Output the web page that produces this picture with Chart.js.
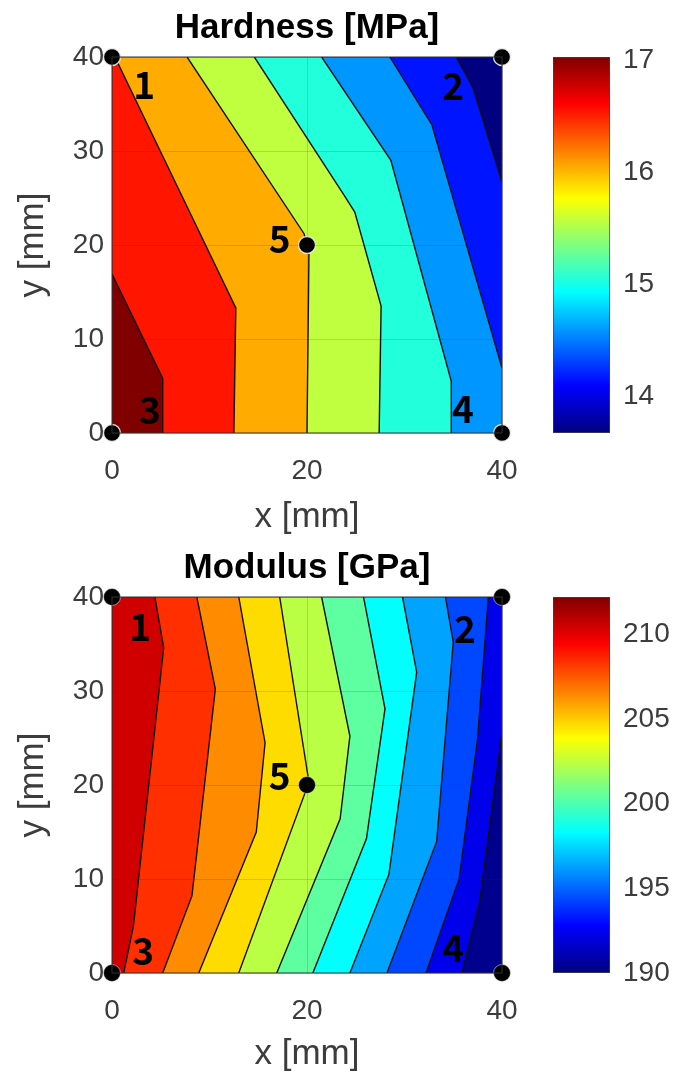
<!DOCTYPE html>
<html>
<head>
<meta charset="utf-8">
<script src="https://cdn.jsdelivr.net/npm/chart.js@4.4.1/dist/chart.umd.min.js"></script>
<style>
  html, body { margin: 0; padding: 0; background: #fff; }
  #page { position: relative; width: 673px; height: 1077px; overflow: hidden; }
  #page canvas { position: absolute; }
</style>
</head>
<body>
<div id="page">
  <canvas id="hardMap" width="614" height="540" style="left:0;top:0;width:614px;height:540px"></canvas>
  <canvas id="hardBar" width="133" height="540" style="left:540px;top:0;width:133px;height:540px"></canvas>
  <canvas id="modMap" width="614" height="537" style="left:0;top:540px;width:614px;height:537px"></canvas>
  <canvas id="modBar" width="133" height="537" style="left:540px;top:540px;width:133px;height:537px"></canvas>
</div>
<script>
// axes (mm)
const xLimits = [0, 40];
const yLimits = [0, 40];
const xTicks = [0, 20, 40];
const yTicks = [0, 10, 20, 30, 40];

// measurement points 1..5
const probeNames = ['1', '2', '3', '4', '5'];
const probeX = [0, 40, 0, 40, 20];
const probeY = [40, 40, 0, 0, 20];
const hardNameX = [3.3, 35.0, 3.9, 36.0, 17.2];
const hardNameY = [37.0, 36.9, 2.5, 2.6, 20.6];
const modNameX = [2.9, 36.2, 3.2, 35.0, 17.2];
const modNameY = [36.8, 36.6, 2.4, 2.7, 21.0];

// hardness contour lines, left to right as [x, y]
const hardContours = [
  [[0, 16.9], [5.2, 5.8], [5.2, 0]],
  [[0.3, 40], [12.7, 13.3], [12.5, 0]],
  [[7.7, 40], [19.7, 21.2], [20.2, 19.2], [20.0, 0]],
  [[14.6, 40], [23.8, 25.3], [24.9, 23.5], [27.6, 13.5], [27.4, 0]],
  [[21.5, 40], [28.6, 29.0], [34.8, 5.5], [34.8, 0]],
  [[28.5, 40], [32.8, 32.8], [40, 6.9]],
  [[35.3, 40], [37.0, 36.8], [40, 26.7]]
];
const hardBands = ['#800000', '#ff1500', '#ffab00', '#c0ff3f', '#22ffdb', '#0096ff', '#0014ff', '#000080'];
const hardRange = [13.67, 17.03];
const hardBarTicks = [14, 15, 16, 17];

// modulus contour lines, left to right
const modContours = [
  [[4.4, 40], [5.3, 34.6], [2.2, 5], [1.2, 0]],
  [[8.7, 40], [10.6, 30.2], [8.2, 8.2], [5.2, 0]],
  [[13.0, 40], [15.7, 24.5], [14.8, 15.0], [8.9, 0]],
  [[17.2, 40], [20.2, 20.3], [13.0, 0]],
  [[21.5, 40], [24.4, 25.2], [23.4, 16.4], [16.9, 0]],
  [[25.8, 40], [28.0, 28.1], [26.1, 14.3], [20.6, 0]],
  [[29.8, 40], [31.25, 32], [28.4, 10.5], [24.4, 0]],
  [[34.2, 40], [35.0, 35.2], [33.3, 14], [28.2, 0]],
  [[38.6, 40], [37.5, 25], [35.6, 10], [32.2, 0]],
  [[40, 25.5], [37.7, 7.5], [35.9, 0]]
];
const modBands = ['#d10000', '#ff2f00', '#ff8b00', '#ffdc00', '#bbff44', '#5effa1', '#00fffd', '#00a4ff', '#0048ff', '#0000eb', '#00008f'];
const modRange = [190, 212.2];
const modBarTicks = [190, 195, 200, 205, 210];

const jetStops = [[0, '#000080'], [0.125, '#0000ff'], [0.375, '#00ffff'], [0.625, '#ffff00'], [0.875, '#ff0000'], [1, '#800000']];

const FONT = '"Liberation Sans", Arial, sans-serif';
const TEXT = '#3c3c3c';

// position along the box outline, clockwise from the top right corner
function rimPos([x, y]) {
  const [x0, x1] = xLimits, [y0, y1] = yLimits;
  const e = 0.01;
  if (Math.abs(x - x1) < e) return y1 - y;
  if (Math.abs(y - y0) < e) return 40 + (x1 - x);
  if (Math.abs(x - x0) < e) return 80 + (y - y0);
  return 120 + (x - x0);
}

// polygon of everything left of a contour line
function leftOf(line) {
  const [x0, x1] = xLimits, [y0, y1] = yLimits;
  const corners = [[x1, y1], [x1, y0], [x0, y0], [x0, y1]];
  const pts = line.map(([x, y]) => ({ x, y }));
  const pEnd = rimPos(line[line.length - 1]);
  let pStart = rimPos(line[0]);
  if (pStart <= pEnd) pStart += 160;
  for (let k = 1; k <= 8; k++) {
    const p = 40 * k;
    if (p > pEnd && p < pStart) {
      const c = corners[k % 4];
      pts.push({ x: c[0], y: c[1] });
    }
  }
  pts.push({ x: line[0][0], y: line[0][1] });
  return pts;
}

const boxAndNames = {
  id: 'boxAndNames',
  afterDatasetsDraw(chart, args, opts) {
    const { ctx, chartArea: a, scales } = chart;
    ctx.save();
    ctx.strokeStyle = '#333';
    ctx.lineWidth = 1;
    ctx.strokeRect(a.left, a.top, a.right - a.left, a.bottom - a.top);
    ctx.fillStyle = '#000';
    ctx.font = '600 37px "Noto Sans CJK KR", "Noto Sans", sans-serif';
    ctx.textAlign = 'center';
    ctx.textBaseline = 'middle';
    probeNames.forEach((t, i) => {
      ctx.fillText(t, scales.x.getPixelForValue(opts.nx[i]), scales.y.getPixelForValue(opts.ny[i]));
    });
    ctx.restore();
  }
};

function makeMap(id, title, contours, bands, nx, ny, ring) {
  const canvas = document.getElementById(id);
  const h = canvas.height;
  const datasets = [];
  const box = [[xLimits[0], yLimits[0]], [xLimits[1], yLimits[0]], [xLimits[1], yLimits[1]], [xLimits[0], yLimits[1]], [xLimits[0], yLimits[0]]];
  datasets.push({
    data: box.map(([x, y]) => ({ x, y })),
    showLine: true, fill: 'shape', backgroundColor: bands[bands.length - 1],
    borderWidth: 0, borderColor: 'transparent', pointRadius: 0, order: 100
  });
  contours.forEach((line, i) => {
    datasets.push({
      data: leftOf(line),
      showLine: true, fill: 'shape', backgroundColor: bands[i],
      borderWidth: 0, borderColor: 'transparent', pointRadius: 0, order: 20 + i
    });
  });
  contours.forEach((line) => {
    datasets.push({
      data: line.map(([x, y]) => ({ x, y })),
      showLine: true, fill: false, borderColor: '#111', borderWidth: 1.4,
      pointRadius: 0, order: 10
    });
  });
  datasets.push({
    data: probeX.map((x, i) => ({ x, y: probeY[i] })),
    showLine: false, pointRadius: 8.5, pointBackgroundColor: '#000',
    pointBorderColor: 'rgba(240,240,240,0.9)', pointBorderWidth: ring,
    clip: false, order: 0
  });

  return new Chart(canvas, {
    type: 'scatter',
    data: { datasets },
    plugins: [boxAndNames],
    options: {
      responsive: false,
      animation: false,
      events: [],
      layout: { padding: 0 },
      plugins: {
        legend: { display: false },
        tooltip: { enabled: false },
        title: {
          display: true, text: title, color: '#000',
          font: { family: FONT, size: 35, weight: 'bold', lineHeight: 1.2 },
          padding: { top: 7, bottom: 8 }
        },
        boxAndNames: { nx, ny }
      },
      scales: {
        x: {
          type: 'linear', min: xLimits[0], max: xLimits[1],
          afterBuildTicks: (s) => { s.ticks = xTicks.map((v) => ({ value: v })); },
          afterFit: (s) => { s.height = h - 433; },
          grid: { color: 'rgba(40,40,40,0.16)', drawTicks: false, z: 1 },
          border: { display: false },
          ticks: { color: TEXT, padding: 21, font: { family: FONT, size: 28 }, maxRotation: 0 },
          title: { display: true, text: 'x [mm]', color: TEXT, font: { family: FONT, size: 35, lineHeight: 1.2 }, padding: { top: 0, bottom: 2 } }
        },
        y: {
          type: 'linear', min: yLimits[0], max: yLimits[1],
          afterBuildTicks: (s) => { s.ticks = yTicks.map((v) => ({ value: v })); },
          afterFit: (s) => { s.width = 112; },
          grid: { color: 'rgba(40,40,40,0.16)', drawTicks: false, z: 1 },
          border: { display: false },
          ticks: { color: TEXT, padding: 8, font: { family: FONT, size: 28 } },
          title: { display: true, text: 'y [mm]', color: TEXT, font: { family: FONT, size: 35, lineHeight: 1.2 }, padding: { top: 12, bottom: 0 } }
        },
        // empty right-hand spacer so the title centres over the plot box
        yRight: {
          type: 'linear', position: 'right', display: true,
          afterFit: (s) => { s.width = 112; },
          grid: { display: false, drawTicks: false },
          border: { display: false },
          ticks: { display: false }
        }
      }
    }
  });
}

function makeBar(id, range, ticks) {
  const canvas = document.getElementById(id);
  const h = canvas.height;
  return new Chart(canvas, {
    type: 'bar',
    data: {
      labels: [''],
      datasets: [{
        data: [range],
        backgroundColor: (ctx) => {
          const a = ctx.chart.chartArea;
          if (!a) return '#888';
          const g = ctx.chart.ctx.createLinearGradient(0, a.bottom, 0, a.top);
          jetStops.forEach(([p, c]) => g.addColorStop(p, c));
          return g;
        },
        borderColor: '#444', borderWidth: 1, borderSkipped: false,
        barPercentage: 1, categoryPercentage: 1
      }]
    },
    options: {
      responsive: false,
      animation: false,
      events: [],
      layout: { padding: { left: 13, right: 0, top: 57, bottom: h - 433 } },
      plugins: { legend: { display: false }, tooltip: { enabled: false } },
      scales: {
        x: { display: false },
        y: {
          position: 'right', min: range[0], max: range[1],
          afterBuildTicks: (s) => { s.ticks = ticks.map((v) => ({ value: v })); },
          afterFit: (s) => { s.width = 63; },
          grid: { display: false, drawTicks: false },
          border: { display: false },
          ticks: { color: TEXT, padding: 13, font: { family: FONT, size: 28 } }
        }
      }
    }
  });
}

makeMap('hardMap', 'Hardness [MPa]', hardContours, hardBands, hardNameX, hardNameY, 1.3);
makeBar('hardBar', hardRange, hardBarTicks);
makeMap('modMap', 'Modulus [GPa]', modContours, modBands, modNameX, modNameY, 0.6);
makeBar('modBar', modRange, modBarTicks);
</script>
</body>
</html>
